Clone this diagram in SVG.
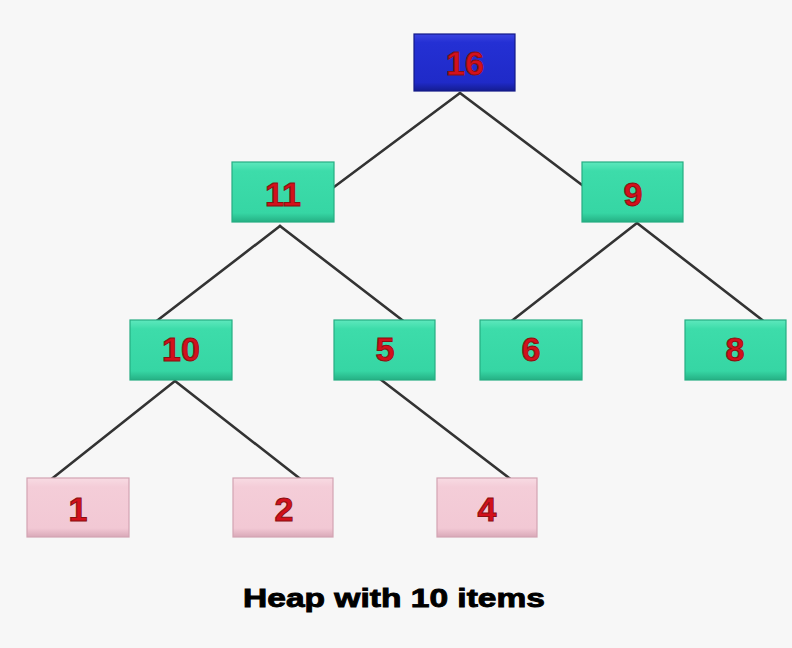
<svg xmlns="http://www.w3.org/2000/svg" width="792" height="648" viewBox="0 0 792 648">
  <defs>
    <linearGradient id="gBlue" x1="0" y1="0" x2="0" y2="1">
      <stop offset="0" stop-color="#3a44e0"/>
      <stop offset="0.15" stop-color="#2430d4"/>
      <stop offset="0.85" stop-color="#1f2ac8"/>
      <stop offset="1" stop-color="#141c90"/>
    </linearGradient>
    <linearGradient id="gGreen" x1="0" y1="0" x2="0" y2="1">
      <stop offset="0" stop-color="#5ee8bd"/>
      <stop offset="0.15" stop-color="#3ddcaa"/>
      <stop offset="0.85" stop-color="#36d6a4"/>
      <stop offset="1" stop-color="#25b084"/>
    </linearGradient>
    <linearGradient id="gPink" x1="0" y1="0" x2="0" y2="1">
      <stop offset="0" stop-color="#f8dbe3"/>
      <stop offset="0.15" stop-color="#f4cdd8"/>
      <stop offset="0.85" stop-color="#f2c8d4"/>
      <stop offset="1" stop-color="#d9a9b8"/>
    </linearGradient>
  </defs>
  <style>
    .edge { stroke: #333333; stroke-width: 2.6; fill: none; stroke-linecap: round; }
    .blue { fill: url(#gBlue); stroke: #131a88; stroke-width: 1.2; }
    .green { fill: url(#gGreen); stroke: #26ad83; stroke-width: 1.2; }
    .pink { fill: url(#gPink); stroke: #d3a3b2; stroke-width: 1.2; }
    .num { font-family: "Liberation Sans", Arial, sans-serif; font-weight: bold; font-size: 34px; fill: #d3101c; stroke: #8a1010; stroke-width: 1; text-anchor: middle; }
    .caption { font-family: "Liberation Sans", Arial, sans-serif; font-weight: bold; font-size: 26px; fill: #000000; stroke: #000000; stroke-width: 0.9; }
  </style>
  <rect x="0" y="0" width="792" height="648" fill="#f7f7f7"/>
  <g id="connectors">
    <line class="edge" x1="460" y1="93" x2="330" y2="190"/>
    <line class="edge" x1="460" y1="93" x2="586" y2="188"/>
    <line class="edge" x1="280" y1="226" x2="154" y2="323"/>
    <line class="edge" x1="280" y1="226" x2="406" y2="323"/>
    <line class="edge" x1="637" y1="223" x2="509" y2="323"/>
    <line class="edge" x1="637" y1="223" x2="766" y2="323"/>
    <line class="edge" x1="175" y1="381" x2="49" y2="481"/>
    <line class="edge" x1="175" y1="381" x2="303" y2="481"/>
    <line class="edge" x1="380" y1="379" x2="513" y2="481"/>
  </g>
  <g id="node-16">
    <rect class="blue" x="414" y="34" width="101" height="57"/>
    <text class="num" x="465" y="75">16</text>
  </g>
  <g id="node-11">
    <rect class="green" x="232" y="162" width="102" height="60"/>
    <text class="num" x="283" y="206">11</text>
  </g>
  <g id="node-9">
    <rect class="green" x="582" y="162" width="101" height="60"/>
    <text class="num" x="633" y="206">9</text>
  </g>
  <g id="node-10">
    <rect class="green" x="130" y="320" width="102" height="60"/>
    <text class="num" x="181" y="361">10</text>
  </g>
  <g id="node-5">
    <rect class="green" x="334" y="320" width="101" height="60"/>
    <text class="num" x="385" y="361">5</text>
  </g>
  <g id="node-6">
    <rect class="green" x="480" y="320" width="102" height="60"/>
    <text class="num" x="531" y="361">6</text>
  </g>
  <g id="node-8">
    <rect class="green" x="685" y="320" width="101" height="60"/>
    <text class="num" x="735" y="361">8</text>
  </g>
  <g id="node-1">
    <rect class="pink" x="27" y="478" width="102" height="59"/>
    <text class="num" x="78" y="521">1</text>
  </g>
  <g id="node-2">
    <rect class="pink" x="233" y="478" width="100" height="59"/>
    <text class="num" x="284" y="521">2</text>
  </g>
  <g id="node-4">
    <rect class="pink" x="437" y="478" width="100" height="59"/>
    <text class="num" x="487" y="521">4</text>
  </g>
  <text class="caption" x="243" y="607" textLength="302" lengthAdjust="spacingAndGlyphs">Heap with 10 items</text>
</svg>
